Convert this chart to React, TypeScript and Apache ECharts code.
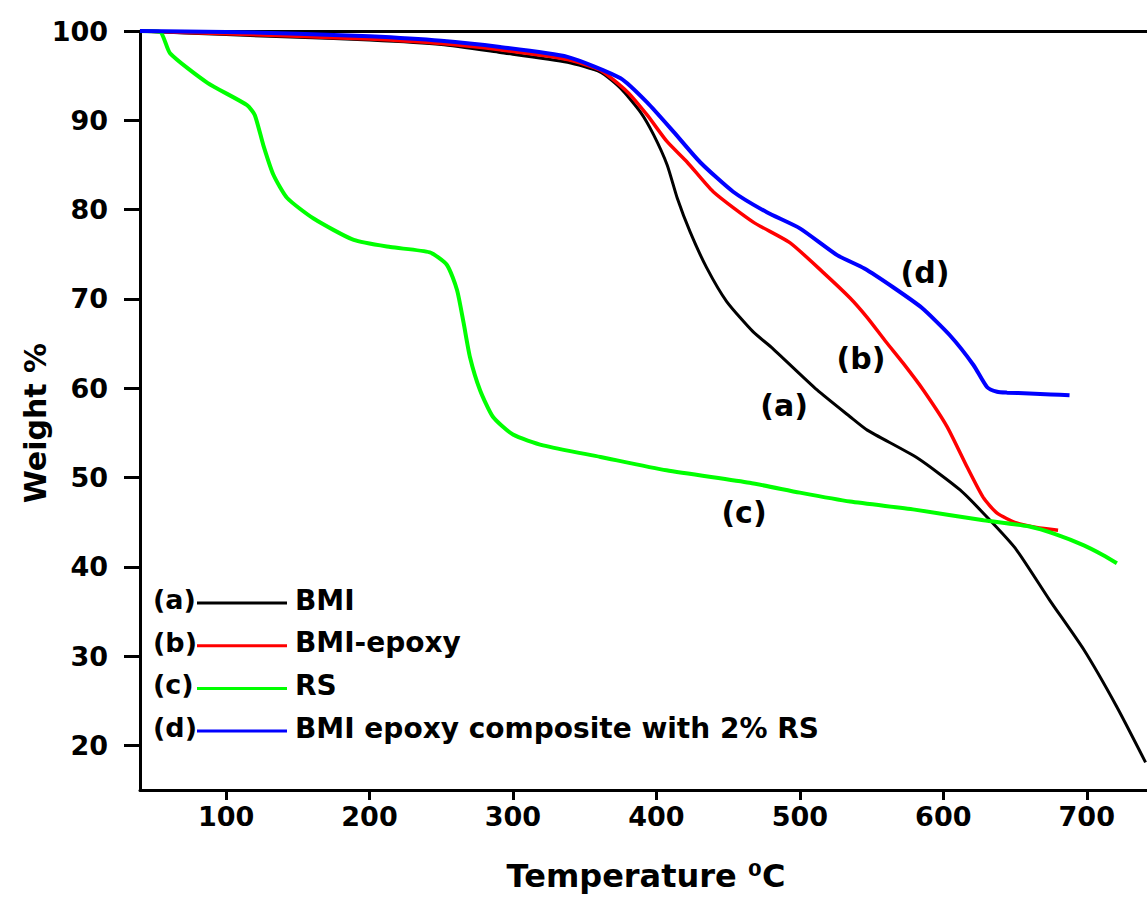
import React, { useEffect, useRef } from "react";
import * as echarts from "echarts";

const FONT = "DejaVu Sans";

// Tick values
const tempTicks = [100, 200, 300, 400, 500, 600, 700];
const weightTicks = [20, 30, 40, 50, 60, 70, 80, 90, 100];

// (a) BMI
const bmiTemp = [40, 100, 150, 200, 250, 291, 338, 361, 375, 389, 398, 407.5, 414.5, 423.5, 435, 449, 467.5, 480, 512, 535, 547, 581.7, 611.7, 632.6, 651, 674, 698, 721, 741];
const bmiWeight = [100, 99.6, 99.3, 99.0, 98.5, 97.6, 96.5, 95.4, 93.6, 90.9, 88.4, 85.0, 81.3, 77.5, 73.5, 69.7, 66.3, 64.6, 59.8, 56.8, 55.3, 52.2, 48.6, 45.2, 41.9, 36.3, 30.7, 24.3, 18.1];

// (b) BMI-epoxy
const epoxyTemp = [40, 100, 150, 200, 250, 291, 338, 361, 379.6, 393.5, 407.5, 421.5, 439.6, 467.5, 493, 516, 535, 547, 560, 572, 586, 602.6, 616.5, 627.7, 637.5, 651, 665, 680];
const epoxyWeight = [100, 99.7, 99.4, 99.1, 98.6, 97.9, 96.8, 95.6, 93.2, 90.6, 87.6, 85.3, 82.0, 78.6, 76.3, 73.0, 70.1, 67.9, 65.2, 62.8, 59.8, 55.7, 51.2, 47.8, 46.0, 44.9, 44.4, 44.1];

// (c) RS
const rsTemp = [40, 54, 61, 87, 114.6, 120, 126, 133, 142.6, 161, 189, 214.5, 242, 254, 261, 265.6, 270, 277, 286, 300, 321, 361, 407, 465, 500, 535, 580, 628, 660, 679, 698, 711.5, 721];
const rsWeight = [100, 99.9, 97.5, 94.2, 91.7, 90.6, 87.2, 83.9, 81.3, 79.0, 76.6, 75.8, 75.2, 73.8, 71.0, 67.3, 63.5, 59.8, 56.8, 54.8, 53.6, 52.3, 50.8, 49.4, 48.3, 47.3, 46.4, 45.2, 44.5, 43.6, 42.4, 41.3, 40.4];

// (d) BMI epoxy composite with 2% RS
const compTemp = [40, 100, 150, 200, 250, 291, 338, 375, 393.5, 412, 430.5, 453.5, 477, 500, 526, 545, 565, 585, 604.7, 621, 630.6, 637.5, 644.5, 660, 675, 688];
const compWeight = [100, 99.9, 99.7, 99.4, 98.9, 98.2, 97.1, 94.7, 92.0, 88.7, 85.3, 82.0, 79.7, 77.9, 74.9, 73.4, 71.3, 69.0, 65.9, 62.6, 60.1, 59.6, 59.5, 59.4, 59.3, 59.2];

const seriesTags = ["(a)", "(b)", "(c)", "(d)"];
const seriesNames = ["BMI", "BMI-epoxy", "RS", "BMI epoxy composite with 2% RS"];
const seriesColors = ["#000000", "#ff0000", "#00ff00", "#0000ff"];
const seriesWidths = [3, 3.5, 4, 4];

const zip = (xs: number[], ys: number[]) => xs.map((x, i) => [x, ys[i]]);

export default function App() {
  const ref = useRef<HTMLDivElement>(null);

  useEffect(() => {
    if (!ref.current) return;
    const chart = echarts.init(ref.current, null, { renderer: "svg" });
    const data = [
      zip(bmiTemp, bmiWeight),
      zip(epoxyTemp, epoxyWeight),
      zip(rsTemp, rsWeight),
      zip(compTemp, compWeight),
    ];

    const labelStyle = {
      fontFamily: FONT,
      fontWeight: "bold" as const,
      color: "#000",
    };

    const legendGraphics: any[] = [];
    seriesNames.forEach((name, i) => {
      const y = 603 + i * 42.7;
      legendGraphics.push({
        type: "text",
        left: 153,
        top: y - 17,
        style: { text: seriesTags[i], font: `bold 27px "${FONT}"`, fill: "#000" },
      });
      legendGraphics.push({
        type: "line",
        shape: { x1: 197, y1: y, x2: 287, y2: y },
        style: { stroke: seriesColors[i], lineWidth: 3 },
      });
      legendGraphics.push({
        type: "text",
        left: 295,
        top: y - 17,
        style: { text: name, font: `bold 28px "${FONT}"`, fill: "#000" },
      });
    });

    const annotations = [
      { t: "(d)", x: 925, y: 272 },
      { t: "(b)", x: 861, y: 358 },
      { t: "(a)", x: 784, y: 405 },
      { t: "(c)", x: 744, y: 512 },
    ].map((a) => ({
      type: "text",
      x: a.x,
      y: a.y,
      style: {
        text: a.t,
        font: `bold 30px "${FONT}"`,
        fill: "#000",
        align: "center",
        verticalAlign: "middle",
      },
    }));

    chart.setOption({
      animation: false,
      backgroundColor: "#fff",
      grid: { left: 140, top: 31, right: 0, bottom: 109 },
      xAxis: [
        {
          type: "value",
          min: 40,
          max: 742,
          position: "bottom",
          axisLine: { onZero: false, lineStyle: { color: "#000", width: 3 } },
          axisTick: { customValues: tempTicks, length: 10, lineStyle: { color: "#000", width: 3 } },
          axisLabel: { customValues: tempTicks, margin: 13, fontSize: 27, ...labelStyle },
          splitLine: { show: false },
        },
        {
          type: "value",
          min: 40,
          max: 742,
          position: "top",
          axisLine: { onZero: false, lineStyle: { color: "#000", width: 3 } },
          axisTick: { show: false },
          axisLabel: { show: false },
          splitLine: { show: false },
        },
      ],
      yAxis: {
        type: "value",
        min: 15,
        max: 100,
        axisLine: { show: true, onZero: false, lineStyle: { color: "#000", width: 3 } },
        axisTick: { show: true, customValues: weightTicks, length: 16, lineStyle: { color: "#000", width: 3 } },
        axisLabel: { customValues: weightTicks, margin: 32, fontSize: 27, ...labelStyle },
        splitLine: { show: false },
      },
      series: data.map((d, i) => ({
        type: "line",
        name: seriesNames[i],
        xAxisIndex: 0,
        data: d,
        showSymbol: false,
        smooth: 0.2,
        clip: true,
        lineStyle: { color: seriesColors[i], width: seriesWidths[i] },
        itemStyle: { color: seriesColors[i] },
      })),
      graphic: [
        ...legendGraphics,
        ...annotations,
        {
          type: "text",
          x: 646,
          y: 876,
          style: {
            text: "Temperature \u2070C",
            font: `bold 32px "${FONT}"`,
            fill: "#000",
            align: "center",
            verticalAlign: "middle",
          },
        },
        {
          type: "text",
          x: 35,
          y: 423,
          rotation: Math.PI / 2,
          style: {
            text: "Weight %",
            font: `bold 30px "${FONT}"`,
            fill: "#000",
            align: "center",
            verticalAlign: "middle",
          },
        },
      ],
    });
    return () => chart.dispose();
  }, []);

  return (
    <div
      ref={ref}
      style={{ position: "fixed", left: 0, top: 0, width: 1147, height: 899, background: "#fff" }}
    />
  );
}
